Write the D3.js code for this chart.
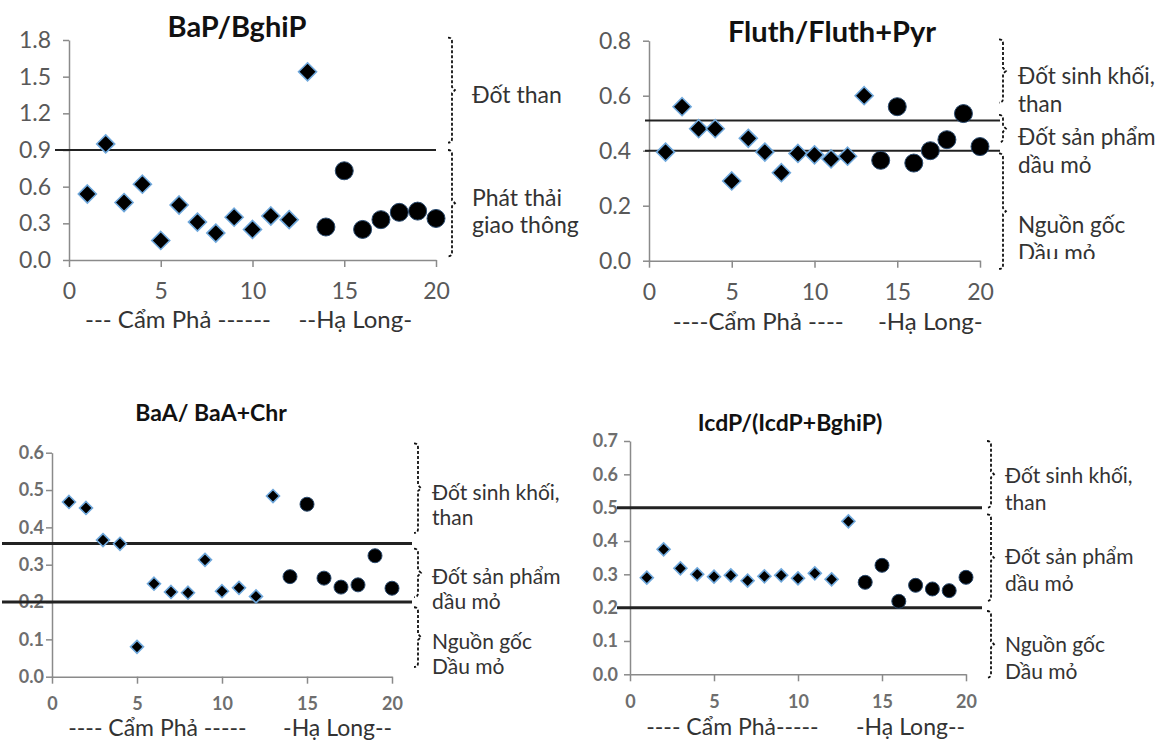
<!DOCTYPE html>
<html>
<head>
<meta charset="utf-8">
<script src="https://cdn.jsdelivr.net/npm/d3@7"></script>
<style>
  body { margin: 0; background: #fff; }
  svg { display: block; font-family: Lato, "Open Sans", sans-serif; }
</style>
</head>
<body>
<svg width="1167" height="740"></svg>
<script>
// sampling sites 1..20: 1-13 Cam Pha (diamonds), 14-20 Ha Long (circles)
const sites    = [1, 2, 3, 4, 5, 6, 7, 8, 9, 10, 11, 12, 13, 14, 15, 16, 17, 18, 19, 20];
const siteArea = ['CP','CP','CP','CP','CP','CP','CP','CP','CP','CP','CP','CP','CP',
                  'HL','HL','HL','HL','HL','HL','HL'];

// ratio values
const bapBghip = [0.54, 0.95, 0.47, 0.62, 0.16, 0.45, 0.31, 0.22, 0.35, 0.25, 0.36, 0.33, 1.54,
                  0.27, 0.73, 0.25, 0.33, 0.39, 0.40, 0.34];
const fluthPyr = [0.395, 0.56, 0.48, 0.48, 0.29, 0.445, 0.395, 0.32, 0.39, 0.385, 0.37, 0.38, 0.60,
                  0.365, 0.56, 0.355, 0.40, 0.44, 0.535, 0.415];
const baaChr   = [0.468, 0.452, 0.366, 0.356, 0.08, 0.249, 0.227, 0.225, 0.313, 0.229, 0.238, 0.215, 0.484,
                  0.268, 0.462, 0.264, 0.24, 0.246, 0.324, 0.237];
const icdpBghip = [0.29, 0.375, 0.318, 0.30, 0.293, 0.297, 0.281, 0.294, 0.297, 0.288, 0.303, 0.285, 0.459,
                   0.276, 0.327, 0.219, 0.267, 0.256, 0.251, 0.291];

// tick values
const xTicks = [0, 5, 10, 15, 20];
const yTicksBap = [0, 0.3, 0.6, 0.9, 1.2, 1.5, 1.8];
const yTicksFluth = [0, 0.2, 0.4, 0.6, 0.8];
const yTicksBaa = [0, 0.1, 0.2, 0.3, 0.4, 0.5, 0.6];
const yTicksIcdp = [0, 0.1, 0.2, 0.3, 0.4, 0.5, 0.6, 0.7];

// source thresholds
const thrBap = [0.9];
const thrFluth = [0.51, 0.4];
const thrBaa = [0.357, 0.2];
const thrIcdp = [0.5, 0.2];

// source labels
const srcBap = [['Đốt than'], ['Phát thải', 'giao thông']];
const srcOther = [['Đốt sinh khối,', 'than'], ['Đốt sản phẩm', 'dầu mỏ'], ['Nguồn gốc', 'Dầu mỏ']];
const groupLabels = {
  bap:   ['--- Cẩm Phả ------', '--Hạ Long-'],
  fluth: ['----Cẩm Phả ----', '-Hạ Long-'],
  baa:   ['---- Cẩm Phả -----', '-Hạ Long--'],
  icdp:  ['---- Cẩm Phả-----', '-Hạ Long--']
};

const svg = d3.select('svg');

const panels = [
  { key: 'bap', title: 'BaP/BghiP', values: bapBghip, yTicks: yTicksBap, yMax: 1.8, thr: thrBap,
    xr: [69, 436], yr: [260, 40], titleX: 237, titleY: 37, titleSize: 29,
    tickSize: 23, tickWeight: 'normal', labelPad: 12, xPad: 16, dia: 9, dot: 9, lineX: [55, 436], lineW: 2,
    brX: 452, brackets: [[1.82, 0.96], [0.9, 0.03]],
    src: srcBap, srcX: 472, srcY: [1.35, 0.40], srcLH: 27, srcSize: 23,
    groupX: [5.94, 15.6], groupY: 320, groupSize: 24, clip: null },
  { key: 'fluth', title: 'Fluth/Fluth+Pyr', values: fluthPyr, yTicks: yTicksFluth, yMax: 0.8, thr: thrFluth,
    xr: [649, 980], yr: [260.7, 40.7], titleX: 832, titleY: 42, titleSize: 29,
    tickSize: 23, tickWeight: 'normal', labelPad: 12, xPad: 16, dia: 9, dot: 9, lineX: [645, 1000], lineW: 2,
    brX: 1003, brackets: [[0.805, 0.575], [0.53, 0.43], [0.39, -0.03]],
    src: srcOther, srcX: 1018, srcY: [0.62, 0.40, 0.08], srcLH: 28, srcSize: 22.5,
    groupX: [6.6, 17.0], groupY: 322, groupSize: 24, clip: 259 },
  { key: 'baa', title: 'BaA/ BaA+Chr', values: baaChr, yTicks: yTicksBaa, yMax: 0.6, thr: thrBaa,
    xr: [52, 392], yr: [676.7, 452.7], titleX: 211, titleY: 421, titleSize: 23,
    tickSize: 18, tickWeight: 'bold', labelPad: 2, xPad: 14, dia: 6.5, dot: 7, lineX: [2, 412], lineW: 3,
    brX: 418, brackets: [[0.625, 0.385], [0.343, 0.213], [0.186, 0.026]],
    src: srcOther, srcX: 432, srcY: [0.46, 0.234, 0.061], srcLH: 25, srcSize: 21,
    groupX: [6.2, 16.8], groupY: 728, groupSize: 23, clip: null },
  { key: 'icdp', title: 'IcdP/(IcdP+BghiP)', values: icdpBghip, yTicks: yTicksIcdp, yMax: 0.7, thr: thrIcdp,
    xr: [630, 966], yr: [674.3, 441], titleX: 790, titleY: 431, titleSize: 23,
    tickSize: 18, tickWeight: 'bold', labelPad: 6, xPad: 14, dia: 6.5, dot: 7, lineX: [617, 982], lineW: 3,
    brX: 991, brackets: [[0.7, 0.5], [0.48, 0.22], [0.19, -0.01]],
    src: srcOther, srcX: 1005, srcY: [0.557, 0.313, 0.047], srcLH: 27, srcSize: 21,
    groupX: [6.1, 16.7], groupY: 727, groupSize: 23, clip: null }
];

const diamond = r => `M0,${-r}L${r},0L0,${r}L${-r},0Z`;

const bracket = (x, ya, yb) => {
  const m = (ya + yb) / 2;
  return `M${x - 4},${ya}Q${x},${ya} ${x},${ya + 4}V${m - 3}L${x + 3},${m}L${x},${m + 3}` +
         `V${yb - 4}Q${x},${yb} ${x - 4},${yb}`;
};

panels.forEach(p => {
  const x = d3.scaleLinear().domain([0, 20]).range(p.xr);
  const y = d3.scaleLinear().domain([0, p.yMax]).range(p.yr);
  const g = svg.append('g');

  // title
  g.append('text')
    .attr('x', p.titleX).attr('y', p.titleY)
    .attr('text-anchor', 'middle')
    .style('font-size', p.titleSize + 'px').style('font-weight', 'bold')
    .style('fill', '#111')
    .text(p.title);

  // axes
  const yAxis = g.append('g')
    .attr('transform', `translate(${p.xr[0]},0)`)
    .call(d3.axisLeft(y).tickValues(p.yTicks).tickFormat(d3.format('.1f'))
      .tickSize(6).tickSizeOuter(0).tickPadding(p.labelPad));
  const xAxis = g.append('g')
    .attr('transform', `translate(0,${p.yr[0]})`)
    .call(d3.axisBottom(x).tickValues(xTicks).tickSize(7).tickSizeOuter(0).tickPadding(p.xPad));
  [yAxis, xAxis].forEach(a => {
    a.select('.domain').attr('stroke', '#8a8a8a').attr('stroke-width', 1.5);
    a.selectAll('.tick line').attr('stroke', '#8a8a8a').attr('stroke-width', 1.5);
    a.selectAll('.tick text').attr('fill', p.tickWeight === 'bold' ? '#6e6e6e' : '#595959')
      .style('font-size', p.tickSize + 'px').style('font-weight', p.tickWeight)
      .style('font-family', 'Lato, sans-serif');
  });

  // thresholds
  g.selectAll('line.thr').data(p.thr).enter().append('line')
    .attr('class', 'thr')
    .attr('x1', p.lineX[0]).attr('x2', p.lineX[1])
    .attr('y1', d => y(d)).attr('y2', d => y(d))
    .attr('stroke', '#222').attr('stroke-width', p.lineW);

  // brackets
  g.selectAll('path.br').data(p.brackets).enter().append('path')
    .attr('class', 'br')
    .attr('d', d => bracket(p.brX, y(d[0]), y(d[1])))
    .attr('fill', 'none').attr('stroke', '#111').attr('stroke-width', 1.8)
    .attr('stroke-dasharray', '3,2');

  // source labels
  const lg = g.append('g');
  if (p.clip) {
    const id = 'clip-' + p.key;
    svg.append('clipPath').attr('id', id).append('rect')
      .attr('x', 0).attr('y', 0).attr('width', 1167).attr('height', p.clip);
    lg.attr('clip-path', `url(#${id})`);
  }
  p.src.forEach((lines, i) => {
    const top = y(p.srcY[i]) - (lines.length - 1) * p.srcLH / 2;
    const t = lg.append('text')
      .style('font-size', p.srcSize + 'px').style('fill', '#333');
    lines.forEach((ln, j) => {
      t.append('tspan').attr('x', p.srcX)
        .attr('y', top + j * p.srcLH).attr('dy', '0.35em')
        .text(ln);
    });
  });

  // area labels under axis
  g.selectAll('text.grp').data(groupLabels[p.key]).enter().append('text')
    .attr('class', 'grp')
    .attr('x', (d, i) => x(p.groupX[i])).attr('y', p.groupY).attr('dy', '0.35em')
    .attr('text-anchor', 'middle')
    .style('font-size', p.groupSize + 'px').style('fill', '#333')
    .text(d => d);

  // points
  const pts = sites.map((s, i) => ({ s, v: p.values[i], area: siteArea[i] }));
  g.selectAll('path.dia').data(pts.filter(d => d.area === 'CP')).enter().append('path')
    .attr('class', 'dia')
    .attr('transform', d => `translate(${x(d.s)},${y(d.v)})`)
    .attr('d', diamond(p.dia))
    .attr('fill', '#000').attr('stroke', '#6fa8dc').attr('stroke-width', 1.6);
  g.selectAll('circle.dot').data(pts.filter(d => d.area === 'HL')).enter().append('circle')
    .attr('class', 'dot')
    .attr('cx', d => x(d.s)).attr('cy', d => y(d.v))
    .attr('r', p.dot)
    .attr('fill', '#000').attr('stroke', '#2a4a6e').attr('stroke-width', 1);
});
</script>
</body>
</html>
